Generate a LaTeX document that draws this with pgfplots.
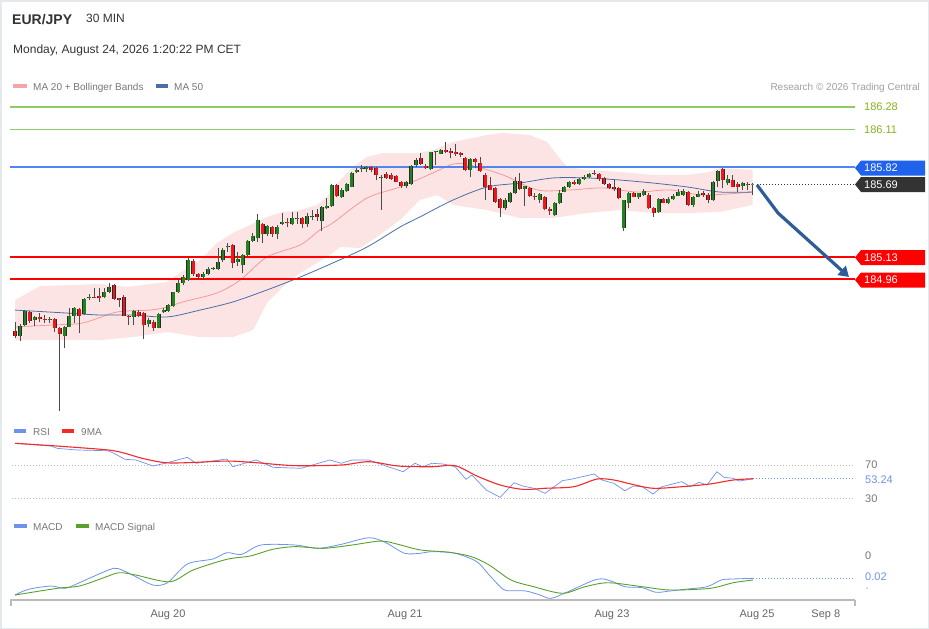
\documentclass[border=0pt]{standalone}
\usepackage{pgfplots}
\pgfplotsset{compat=1.18}
\usepackage{pgfplotstable}
\usetikzlibrary{arrows.meta}
\usepackage{fontspec}
\setmainfont{Liberation Sans}

\definecolor{cgreen}{HTML}{1E841E}
\definecolor{cred}{HTML}{F0161B}
\definecolor{cwick}{HTML}{4A4A4A}
\definecolor{cedge}{HTML}{2A2A2A}
\definecolor{bandfill}{HTML}{FDE4E4}
\definecolor{ma20}{HTML}{F59A9A}
\definecolor{ma50}{HTML}{4A6FA8}
\definecolor{lvlgreen}{HTML}{8FCB62}
\definecolor{tgreen}{HTML}{86B21A}
\definecolor{lblue}{HTML}{4F86F0}
\definecolor{bblue}{HTML}{1F63EC}
\definecolor{dbox}{HTML}{333333}
\definecolor{rsiblue}{HTML}{6E93EA}
\definecolor{rsired}{HTML}{F42A2A}
\definecolor{sig}{HTML}{5AA02C}
\definecolor{arrowc}{HTML}{2E5C98}
\definecolor{txt}{HTML}{333333}
\definecolor{leg}{HTML}{777777}
\definecolor{research}{HTML}{A0A0A0}
\definecolor{framec}{HTML}{E4E9EE}
\definecolor{tickc}{HTML}{666666}
\definecolor{gridc}{HTML}{BBBBBB}

\pgfplotstableread{
i O H L C
1 184.524 184.616 184.486 184.603
2 184.608 184.723 184.601 184.716
4 184.647 184.677 184.601 184.670
7 184.647 184.670 184.624 184.657
10 184.526 184.601 184.434 184.595
11 184.595 184.739 184.593 184.680
12 184.680 184.749 184.624 184.739
14 184.693 184.815 184.685 184.808
15 184.812 184.844 184.800 184.825
18 184.825 184.892 184.815 184.864
19 184.864 184.928 184.854 184.897
24 184.672 184.723 184.608 184.716
27 184.614 184.660 184.595 184.647
29 184.588 184.698 184.583 184.690
30 184.706 184.736 184.698 184.723
31 184.716 184.769 184.710 184.762
32 184.756 184.864 184.749 184.859
33 184.861 184.953 184.854 184.930
34 184.928 184.992 184.915 184.974
35 184.953 185.120 184.946 185.107
38 184.979 185.017 184.953 184.997
39 184.997 185.051 184.989 185.038
40 185.035 185.055 185.030 185.048
41 185.035 185.197 185.030 185.094
42 185.107 185.197 185.094 185.183
43 185.204 185.235 185.170 185.216
45 185.094 185.170 185.063 185.112
46 185.068 185.153 185.005 185.145
47 185.145 185.260 185.137 185.255
48 185.255 185.312 185.247 185.293
49 185.273 185.460 185.247 185.414
51 185.304 185.375 185.293 185.368
53 185.306 185.375 185.268 185.362
54 185.383 185.470 185.375 185.401
56 185.383 185.473 185.375 185.431
57 185.421 185.473 185.383 185.431
59 185.381 185.470 185.362 185.444
60 185.434 185.490 185.414 185.447
62 185.408 185.523 185.329 185.516
63 185.503 185.585 185.498 185.521
64 185.521 185.687 185.516 185.682
66 185.592 185.657 185.580 185.644
67 185.638 185.695 185.631 185.687
68 185.669 185.784 185.664 185.776
69 185.779 185.810 185.772 185.797
70 185.802 185.835 185.779 185.815
71 185.802 185.830 185.779 185.818
74 185.733 185.759 185.490 185.746
79 185.677 185.713 185.661 185.707
80 185.690 185.835 185.682 185.830
81 185.835 185.887 185.822 185.874
84 185.802 185.937 185.797 185.933
85 185.933 185.943 185.835 185.940
86 185.920 185.958 185.917 185.950
92 185.797 185.887 185.746 185.879
99 185.503 185.580 185.490 185.567
100 185.554 185.631 185.546 185.618
101 185.618 185.746 185.613 185.715
103 185.649 185.678 185.521 185.674
106 185.567 185.623 185.542 185.611
109 185.452 185.554 185.447 185.546
110 185.542 185.644 185.534 185.618
111 185.631 185.674 185.626 185.664
112 185.664 185.715 185.657 185.707
114 185.690 185.733 185.682 185.726
115 185.726 185.759 185.720 185.746
116 185.741 185.776 185.733 185.766
123 185.356 185.567 185.331 185.565
124 185.546 185.631 185.503 185.623
126 185.588 185.623 185.575 185.618
127 185.605 185.649 185.598 185.636
130 185.477 185.580 185.470 185.575
132 185.542 185.592 185.536 185.572
133 185.572 185.613 185.567 185.600
134 185.600 185.649 185.598 185.626
135 185.605 185.649 185.598 185.636
137 185.529 185.598 185.511 185.588
138 185.592 185.638 185.588 185.611
141 185.567 185.715 185.562 185.707
142 185.715 185.797 185.669 185.792
144 185.695 185.759 185.682 185.726
147 185.674 185.707 185.644 185.700
148 185.680 185.707 185.644 185.690
}\greentab

\pgfplotstableread{
i O H L C
0 184.565 184.634 184.509 184.524
3 184.708 184.716 184.624 184.641
5 184.670 184.700 184.631 184.654
6 184.654 184.685 184.624 184.647
8 184.654 184.662 184.555 184.588
9 184.585 184.593 183.949 184.539
13 184.731 184.739 184.547 184.680
16 184.825 184.892 184.815 184.818
17 184.833 184.892 184.787 184.815
20 184.915 184.923 184.800 184.808
21 184.813 184.815 184.749 184.800
22 184.821 184.838 184.677 184.680
23 184.680 184.685 184.608 184.667
25 184.710 184.723 184.672 184.680
26 184.703 184.710 184.501 184.608
28 184.634 184.647 184.565 184.588
36 185.101 185.112 184.984 184.999
37 184.997 185.005 184.966 184.979
44 185.222 185.229 185.043 185.086
50 185.383 185.388 185.239 185.304
52 185.362 185.368 185.285 185.304
55 185.401 185.431 185.358 185.388
58 185.431 185.439 185.350 185.381
61 185.460 185.496 185.408 185.439
65 185.682 185.687 185.592 185.598
72 185.822 185.828 185.779 185.797
73 185.810 185.818 185.720 185.759
75 185.764 185.779 185.728 185.733
76 185.759 185.772 185.720 185.728
77 185.753 185.759 185.703 185.707
78 185.703 185.713 185.657 185.677
82 185.891 185.925 185.835 185.843
83 185.828 185.841 185.802 185.810
87 185.950 186.014 185.925 185.937
88 185.943 185.963 185.887 185.930
89 185.937 185.994 185.907 185.920
90 185.925 185.937 185.899 185.912
91 185.891 185.899 185.789 185.797
93 185.881 185.887 185.810 185.861
94 185.853 185.899 185.784 185.789
95 185.759 185.772 185.567 185.669
96 185.682 185.746 185.641 185.644
97 185.657 185.669 185.542 185.554
98 185.572 185.580 185.439 185.503
102 185.715 185.776 185.644 185.649
104 185.661 185.669 185.592 185.598
105 185.600 185.618 185.567 185.588
107 185.592 185.598 185.490 185.496
108 185.496 185.516 185.452 185.485
113 185.707 185.720 185.682 185.690
117 185.776 185.797 185.759 185.766
118 185.766 185.776 185.715 185.726
119 185.733 185.746 185.682 185.690
120 185.690 185.700 185.649 185.661
121 185.664 185.720 185.638 185.649
122 185.657 185.664 185.572 185.580
125 185.623 185.631 185.588 185.592
128 185.605 185.618 185.496 185.503
129 185.503 185.516 185.439 185.470
131 185.572 185.585 185.542 185.546
136 185.626 185.638 185.523 185.529
139 185.618 185.638 185.592 185.605
140 185.605 185.618 185.542 185.567
143 185.802 185.810 185.657 185.720
145 185.720 185.759 185.664 185.669
146 185.690 185.707 185.631 185.669
}\redtab

\pgfplotstableread{
i O H L C
149 185.682 185.700 185.605 185.690
}\graytab

% Bollinger band outline: upper band left to right, then lower band right to left
\pgfplotstableread{
i v
0 184.800
5.1 184.907
17.2 184.923
22.6 184.900
30.7 184.938
33.3 185.007
37.4 185.107
40.8 185.237
44.0 185.314
47.5 185.375
50.9 185.437
54.1 185.475
57.6 185.490
61.0 185.529
63.0 185.590
65.7 185.720
68.3 185.820
71.1 185.897
74.3 185.927
77.8 185.927
81.2 185.927
84.4 185.950
88.5 186.012
95.4 186.065
98.6 186.081
104.0 186.065
107.5 186.012
109.5 185.912
111.5 185.820
115.6 185.797
122.2 185.782
128.9 185.759
135.8 185.759
140.4 185.782
142.4 185.812
149 185.797
149 185.529
142.4 185.475
135.8 185.467
128.9 185.467
122.2 185.490
115.6 185.467
108.7 185.429
102.0 185.429
95.4 185.490
88.5 185.529
85.3 185.605
81.8 185.567
77.8 185.414
73.1 185.283
69.7 185.199
65.7 185.206
64.2 185.160
61.0 185.084
57.6 185.007
54.1 184.900
50.9 184.777
48.1 184.570
44.0 184.516
37.4 184.516
30.7 184.555
23.8 184.516
17.2 184.493
10.5 184.493
0 184.493
}\bandtab

\pgfplotstableread{
i v
0 184.593
7.1 184.608
13.7 184.624
20.6 184.708
27.3 184.723
30.7 184.746
33.9 184.785
40.8 184.854
45.5 184.953
50.9 185.130
57.6 185.222
61.6 185.337
64.2 185.391
71.1 185.582
77.8 185.667
84.4 185.774
88.5 185.843
91.9 185.835
98.6 185.759
105.5 185.644
112.1 185.644
118.8 185.659
125.7 185.628
132.3 185.644
139.0 185.605
149 185.628
}\matwenty

\pgfplotstableread{
i v
0 184.723
10.5 184.700
17.2 184.685
23.8 184.685
30.7 184.670
37.4 184.723
44.0 184.785
50.9 184.877
57.6 184.976
64.2 185.084
71.1 185.206
77.8 185.360
81.8 185.437
88.5 185.567
95.4 185.667
102.0 185.697
108.7 185.736
115.6 185.736
122.2 185.720
128.9 185.697
135.8 185.667
142.4 185.628
149 185.628
}\mafifty

\pgfplotstableread{
i v
0 96.3
7.3 93.0
8.5 90.2
12.5 88.2
18.8 87.3
20.0 84.2
22.2 76.9
24.4 76.1
27.9 68.8
30.3 72.1
34.8 79.3
36.6 72.1
42.8 77.3
44.0 67.9
48.7 76.1
52.1 67.2
57.8 66.0
63.6 76.1
65.9 72.1
68.1 76.1
71.5 76.1
74.9 68.8
78.4 61.9
80.8 72.1
82.4 67.9
84.2 72.1
86.5 71.2
88.9 67.9
91.1 52.7
92.3 57.9
95.2 39.7
98.0 30.8
100.8 48.5
102.6 44.5
104.8 41.8
107.1 35.7
110.6 51.0
112.3 52.7
117.0 59.1
118.6 51.8
121.0 47.8
123.2 38.8
124.9 44.5
126.7 43.7
128.9 34.8
130.7 43.7
134.7 49.8
136.4 43.7
138.2 49.0
139.8 45.8
141.8 61.9
143.2 55.1
145.1 53.9
146.3 50.6
149.1 53.24
}\rsitab

\pgfplotstableread{
i v
0 96.3
8.5 93.0
18.8 88.2
22.2 84.2
25.7 78.1
30.3 72.8
34.8 72.8
42.8 74.8
48.7 72.8
56.6 69.2
65.9 70.0
71.5 74.0
77.4 68.8
84.2 67.9
88.9 69.2
93.3 56.7
98.0 45.8
102.6 40.5
107.1 41.8
112.9 43.7
117.6 53.0
121.0 51.8
124.4 47.0
128.9 41.8
134.7 43.7
140.4 47.0
145.1 51.8
149.1 53.4
}\rsima

\pgfplotstableread{
i v
0 -0.0355
2.7 -0.0303
7.3 -0.0273
10.1 -0.0294
13.0 -0.0243
16.5 -0.0173
19.9 -0.0112
21.6 -0.0127
24.4 -0.0188
27.9 -0.0264
30.8 -0.0243
34.8 -0.0073
40.0 -0.0027
42.8 0.0030
45.8 0.0015
49.7 0.0100
56.6 0.0100
61.2 0.0070
65.9 0.0106
71.5 0.0166
74.9 0.0121
78.7 0.0025
81.9 0.0025
84.2 0.0039
88.9 0.0025
93.3 -0.0052
95.8 -0.0173
98.6 -0.0303
100.2 -0.0315
103.2 -0.0318
106.1 -0.0355
108.3 -0.0385
111.7 -0.0325
117.5 -0.0212
120.4 -0.0227
123.2 -0.0279
126.7 -0.0288
129.5 -0.0330
132.3 -0.0318
135.9 -0.0300
139.8 -0.0279
142.7 -0.0218
145.1 -0.0209
149.1 -0.0203
}\macdtab

\pgfplotstableread{
i v
0 -0.0355
8.5 -0.0294
13.0 -0.0273
17.6 -0.0203
21.0 -0.0152
24.4 -0.0173
31.3 -0.0234
36.0 -0.0127
42.8 -0.0030
47.5 0.0000
52.1 0.0061
56.6 0.0085
62.4 0.0070
68.1 0.0100
73.9 0.0136
77.4 0.0106
81.9 0.0055
87.7 0.0034
92.2 -0.0006
95.8 -0.0082
100.2 -0.0218
104.8 -0.0279
110.6 -0.0339
115.2 -0.0279
119.8 -0.0243
126.7 -0.0279
132.3 -0.0309
140.4 -0.0294
145.1 -0.0243
149.1 -0.0218
}\sigtab

\pgfplotsset{
  panel/.style={scale only axis, width=845pt, xmin=-1.0101, xmax=169.697, anchor=south west},
  candle/.style 2 args={only marks, mark=none, mark size=0pt,
    mark options={draw=none, fill=none}, forget plot,
    error bars/.cd, y dir=plus, y explicit, error mark=none,
    error bar style={draw=#1, line width=#2}},
}

\newcommand{\lab}{\fontsize{11}{13}\selectfont}
\newcommand{\lbox}[3]{%
  \fill[#2] (855,#1) -- (861,#1-7.5) -- (925,#1-7.5) -- (925,#1+7.5) -- (861,#1+7.5) -- cycle;
  \node[anchor=west, text=white, inner sep=0, font=\lab] at (864,#1) {#3};}

\begin{document}
\begin{tikzpicture}
\path[use as bounding box] (0pt,0pt) rectangle (929pt,-629pt);
\fill[white] (0pt,0pt) rectangle (929pt,-629pt);

% ---------------- price panel ----------------
\begin{axis}[panel, at={(10pt,-420pt)}, height=325pt, ymin=183.880, ymax=186.372, hide axis]
\addplot[fill=bandfill, draw=none, forget plot] table[x=i, y=v] {\bandtab};
\addplot[draw=ma20, line width=0.8pt, smooth] table[x=i, y=v] {\matwenty};
\addplot[draw=ma50, line width=0.8pt, smooth] table[x=i, y=v] {\mafifty};
\addplot[draw=lvlgreen, line width=1.1pt] coordinates {(-1.0101,186.28) (169.697,186.28)};
\addplot[draw=lvlgreen, line width=1.1pt] coordinates {(-1.0101,186.11) (169.697,186.11)};
\addplot[draw=lblue, line width=1.2pt] coordinates {(-1.0101,185.82) (169.697,185.82)};
\addplot[draw=red, line width=1.7pt] coordinates {(-1.0101,185.13) (169.697,185.13)};
\addplot[draw=red, line width=1.7pt] coordinates {(-1.0101,184.96) (169.697,184.96)};
\addplot[draw=dbox, line width=0.8pt, dash pattern=on 1pt off 2pt] coordinates {(149.9,185.69) (169.697,185.69)};
% wicks
\addplot[candle={cwick}{0.9pt}] table[x=i, y=L, y error plus expr=\thisrow{H}-\thisrow{L}] {\greentab};
\addplot[candle={cwick}{0.9pt}] table[x=i, y=L, y error plus expr=\thisrow{H}-\thisrow{L}] {\redtab};
\addplot[candle={cwick}{0.9pt}] table[x=i, y=L, y error plus expr=\thisrow{H}-\thisrow{L}] {\graytab};
% body edges
\addplot[candle={cedge}{4.0pt}] table[x=i, y=O, y error plus expr=\thisrow{C}-\thisrow{O}] {\greentab};
\addplot[candle={cedge}{4.0pt}] table[x=i, y=C, y error plus expr=\thisrow{O}-\thisrow{C}] {\redtab};
% bodies
\addplot[candle={cgreen}{2.8pt}] table[x=i, y=O, y error plus expr=\thisrow{C}-\thisrow{O}] {\greentab};
\addplot[candle={cred}{2.8pt}] table[x=i, y=C, y error plus expr=\thisrow{O}-\thisrow{C}] {\redtab};
\addplot[candle={gray}{3.6pt}] table[x=i, y=O, y error plus expr=\thisrow{C}-\thisrow{O}] {\graytab};
\end{axis}

% ---------------- RSI panel ----------------
\begin{axis}[panel, at={(10pt,-505pt)}, height=75pt, ymin=21.52, ymax=112.42, hide axis]
\addplot[draw=gridc, line width=0.7pt, dash pattern=on 1pt off 2pt] coordinates {(-0.6,70) (169.697,70)};
\addplot[draw=gridc, line width=0.7pt, dash pattern=on 1pt off 2pt] coordinates {(-0.6,30) (169.697,30)};
\addplot[draw=rsiblue, line width=0.7pt, dash pattern=on 1pt off 2pt] coordinates {(149.1,53.24) (169.697,53.24)};
\addplot[draw=rsiblue, line width=0.7pt] table[x=i, y=v] {\rsitab};
\addplot[draw=rsired, line width=1.1pt, smooth] table[x=i, y=v] {\rsima};
\end{axis}

% ---------------- MACD panel ----------------
\begin{axis}[panel, at={(10pt,-600pt)}, height=70pt, ymin=-0.04, ymax=0.02364,
  axis x line*=bottom, axis y line=none,
  x axis line style={draw=gridc, line width=1.2pt, -},
  ytick=\empty,
  xtick={30.9,78.8,120.6,149.9,163.8},
  xticklabels={Aug 20, Aug 21, Aug 23, Aug 25, Sep 8},
  major tick length=0pt,
  xticklabel style={font=\lab, text=tickc, anchor=base, yshift=-17pt}]
\addplot[draw=rsiblue, line width=0.7pt, dash pattern=on 1pt off 2pt] coordinates {(149.1,-0.0203) (169.697,-0.0203)};
\addplot[draw=rsiblue, line width=0.8pt, smooth] table[x=i, y=v] {\macdtab};
\addplot[draw=sig, line width=0.9pt, smooth] table[x=i, y=v] {\sigtab};
\end{axis}

% ---------------- annotations in pixel coordinates ----------------
\begin{scope}[x=1pt, y=-1pt]
\draw[framec, line width=1.5pt] (0.75,0.75) rectangle (928.25,628.25);
\draw[gridc, line width=1.2pt] (11,600) -- (11,606);
\draw[gridc, line width=1.2pt] (855,600) -- (855,606);

\node[anchor=base west, inner sep=0, text=txt, font=\fontsize{14}{16}\selectfont\bfseries] at (12,24) {EUR/JPY};
\node[anchor=base west, inner sep=0, text=txt, font=\fontsize{12}{14}\selectfont] at (86,23) {30 MIN};
\node[anchor=base west, inner sep=0, text=txt, font=\fontsize{12}{14}\selectfont] at (13,53) {Monday, August 24, 2026 1:20:22 PM CET};

\fill[ma20!90!white] (13,84) rectangle (27,88);
\node[anchor=base west, inner sep=0, text=leg, font=\fontsize{10}{12}\selectfont] at (33,90) {MA 20 + Bollinger Bands};
\fill[ma50] (156,84) rectangle (168,88);
\node[anchor=base west, inner sep=0, text=leg, font=\fontsize{10}{12}\selectfont] at (174,90) {MA 50};
\node[anchor=base east, inner sep=0, text=research, font=\fontsize{10}{12}\selectfont] at (920,90) {Research \textcopyright{} 2026 Trading Central};

\node[anchor=west, inner sep=0, text=tgreen, font=\lab] at (864,107) {186.28};
\node[anchor=west, inner sep=0, text=tgreen, font=\lab] at (864,130) {186.11};
\lbox{168}{bblue}{185.82}
\lbox{184.5}{dbox}{185.69}
\lbox{257.5}{red}{185.13}
\lbox{280}{red}{184.96}

\draw[arrowc, line width=3.2pt, line join=round, -{Triangle[length=10pt,width=12pt]}] (757,185) -- (778,213) -- (849,277);

% RSI legend and labels
\fill[rsiblue] (14,429) rectangle (26,433);
\node[anchor=base west, inner sep=0, text=leg, font=\fontsize{10}{12}\selectfont] at (33,435) {RSI};
\fill[rsired] (62,429) rectangle (74,433);
\node[anchor=base west, inner sep=0, text=leg, font=\fontsize{10}{12}\selectfont] at (81,435) {9MA};
\node[anchor=west, inner sep=0, text=leg, font=\lab] at (865,465) {70};
\node[anchor=west, inner sep=0, text=rsiblue, font=\lab] at (865,480) {53.24};
\node[anchor=west, inner sep=0, text=leg, font=\lab] at (865,499) {30};

% MACD legend and labels
\fill[rsiblue] (14,524) rectangle (27,528);
\node[anchor=base west, inner sep=0, text=leg, font=\fontsize{10}{12}\selectfont] at (33,530) {MACD};
\fill[sig] (76,524) rectangle (89,528);
\node[anchor=base west, inner sep=0, text=leg, font=\fontsize{10}{12}\selectfont] at (95,530) {MACD Signal};
\node[anchor=west, inner sep=0, text=leg, font=\lab] at (865,556) {0};
\node[anchor=west, inner sep=0, text=rsiblue, font=\lab] at (865,577) {0.02};
\node[anchor=west, inner sep=0, text=leg, font=\fontsize{7}{8}\selectfont] at (866,589) {-};
\end{scope}
\end{tikzpicture}
\end{document}
